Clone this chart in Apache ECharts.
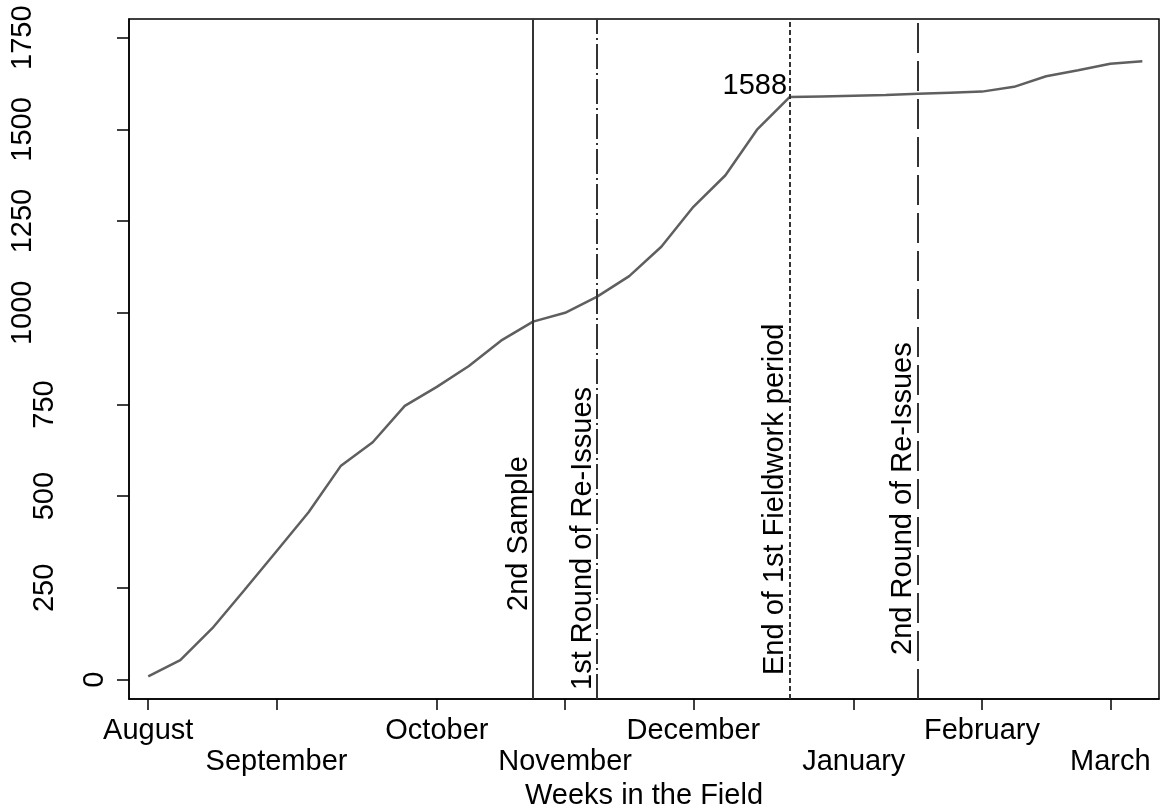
<!DOCTYPE html>
<html>
<head>
<meta charset="utf-8">
<title>Weeks in the Field</title>
<script src="https://cdn.jsdelivr.net/npm/echarts@6.0.0/dist/echarts.min.js"></script>
<style>
  html, body { margin: 0; padding: 0; background: #fff; }
  #chart { width: 1163px; height: 807px; }
</style>
</head>
<body>
<div id="chart"></div>
<script>
// weekly cumulative returns
const weeks = [0, 1, 2, 3, 4, 5, 6, 7, 8, 9, 10, 11, 12, 13, 14, 15,
  16, 17, 18, 19, 20, 21, 22, 23, 24, 25, 26, 27, 28, 29, 30, 31];
const counts = [9, 53, 140, 244, 350, 456, 582, 647, 746, 798, 855, 924, 976, 1000, 1044, 1100,
  1180, 1289, 1375, 1501, 1588, 1590, 1592, 1594, 1597, 1600, 1603, 1616, 1645, 1661, 1679, 1686];

// month ticks on the week axis
const monthWeeks = [0, 4, 9, 13, 17, 22, 26, 30];
const monthLabels = ["August", "September", "October", "November", "December", "January", "February", "March"];

const yTicks = [0, 250, 500, 750, 1000, 1250, 1500, 1750];

// reference lines
const eventWeeks = [12, 14, 20, 24];
const eventLabels = ["2nd Sample", "1st Round of Re-Issues", "End of 1st Fieldwork period", "2nd Round of Re-Issues"];
const eventDash = ["solid", [25, 4, 2, 4], [5, 3], [30, 8]];
const eventLabelStart = [88, 9, 24, 44];

const peakIndex = 20;

const FONT = "Liberation Sans";

const chart = echarts.init(document.getElementById("chart"));

chart.setOption({
  animation: false,
  textStyle: { fontFamily: FONT },
  grid: {
    left: 129,
    right: 4,
    top: 19,
    bottom: 108,
    show: true,
    borderColor: "#000",
    borderWidth: 1.5,
    containLabel: false,
    outerBoundsMode: "none"
  },
  xAxis: {
    type: "value",
    min: -0.6,
    max: 31.52,
    name: "Weeks in the Field",
    nameLocation: "middle",
    nameGap: 76,
    nameTextStyle: { fontSize: 29, color: "#000", fontFamily: FONT },
    splitLine: { show: false },
    axisLine: { show: true, onZero: false, lineStyle: { color: "#000", width: 1.5 } },
    axisTick: {
      show: true,
      length: 11,
      customValues: monthWeeks,
      lineStyle: { color: "#000", width: 1.5 }
    },
    axisLabel: {
      customValues: monthWeeks,
      margin: 16,
      fontSize: 29,
      lineHeight: 31,
      color: "#000",
      fontFamily: FONT,
      formatter: val => {
        const i = monthWeeks.indexOf(val);
        if (i < 0) return "";
        return i % 2 === 1 ? "\n" + monthLabels[i] : monthLabels[i];
      }
    }
  },
  yAxis: {
    type: "value",
    min: -53,
    max: 1801,
    splitLine: { show: false },
    axisLine: { show: true, onZero: false, lineStyle: { color: "#000", width: 1.5 } },
    axisTick: {
      show: true,
      length: 12,
      customValues: yTicks,
      lineStyle: { color: "#000", width: 1.5 }
    },
    axisLabel: {
      customValues: yTicks,
      rotate: 90,
      margin: 20,
      fontSize: 29,
      color: "#000",
      fontFamily: FONT,
      formatter: val => "{l" + String(val).length + "|" + val + "}",
      rich: {
        l1: { fontSize: 29, fontFamily: FONT, color: "#000", padding: [0, 0, 0, 0] },
        l3: { fontSize: 29, fontFamily: FONT, color: "#000", padding: [0, 0, 50, 0] },
        l4: { fontSize: 29, fontFamily: FONT, color: "#000", padding: [0, 0, 72, 0] }
      }
    }
  },
  series: [
    {
      name: "Returns",
      type: "line",
      data: weeks.map((w, i) => [w, counts[i]]),
      showSymbol: false,
      lineStyle: { color: "#5f5f5f", width: 2.5 },
      z: 3,
      markPoint: {
        silent: true,
        symbol: "circle",
        symbolSize: 1,
        itemStyle: { color: "rgba(0,0,0,0)" },
        label: {
          show: true,
          position: "left",
          distance: 2,
          offset: [0, -11],
          fontSize: 29,
          color: "#000",
          fontFamily: FONT,
          formatter: "{c}"
        },
        data: [{ coord: [weeks[peakIndex], counts[peakIndex]], value: counts[peakIndex] }]
      },
      markLine: {
        silent: true,
        symbol: "none",
        animation: false,
        data: eventWeeks.map((w, i) => ({
          xAxis: w,
          lineStyle: { color: "#333", width: 2, type: eventDash[i] },
          label: {
            show: true,
            formatter: eventLabels[i],
            position: "insideStartTop",
            distance: [eventLabelStart[i], 0],
            fontSize: 29,
            color: "#000",
            fontFamily: FONT
          }
        }))
      }
    }
  ]
});

window.addEventListener("resize", () => chart.resize());
</script>
</body>
</html>
